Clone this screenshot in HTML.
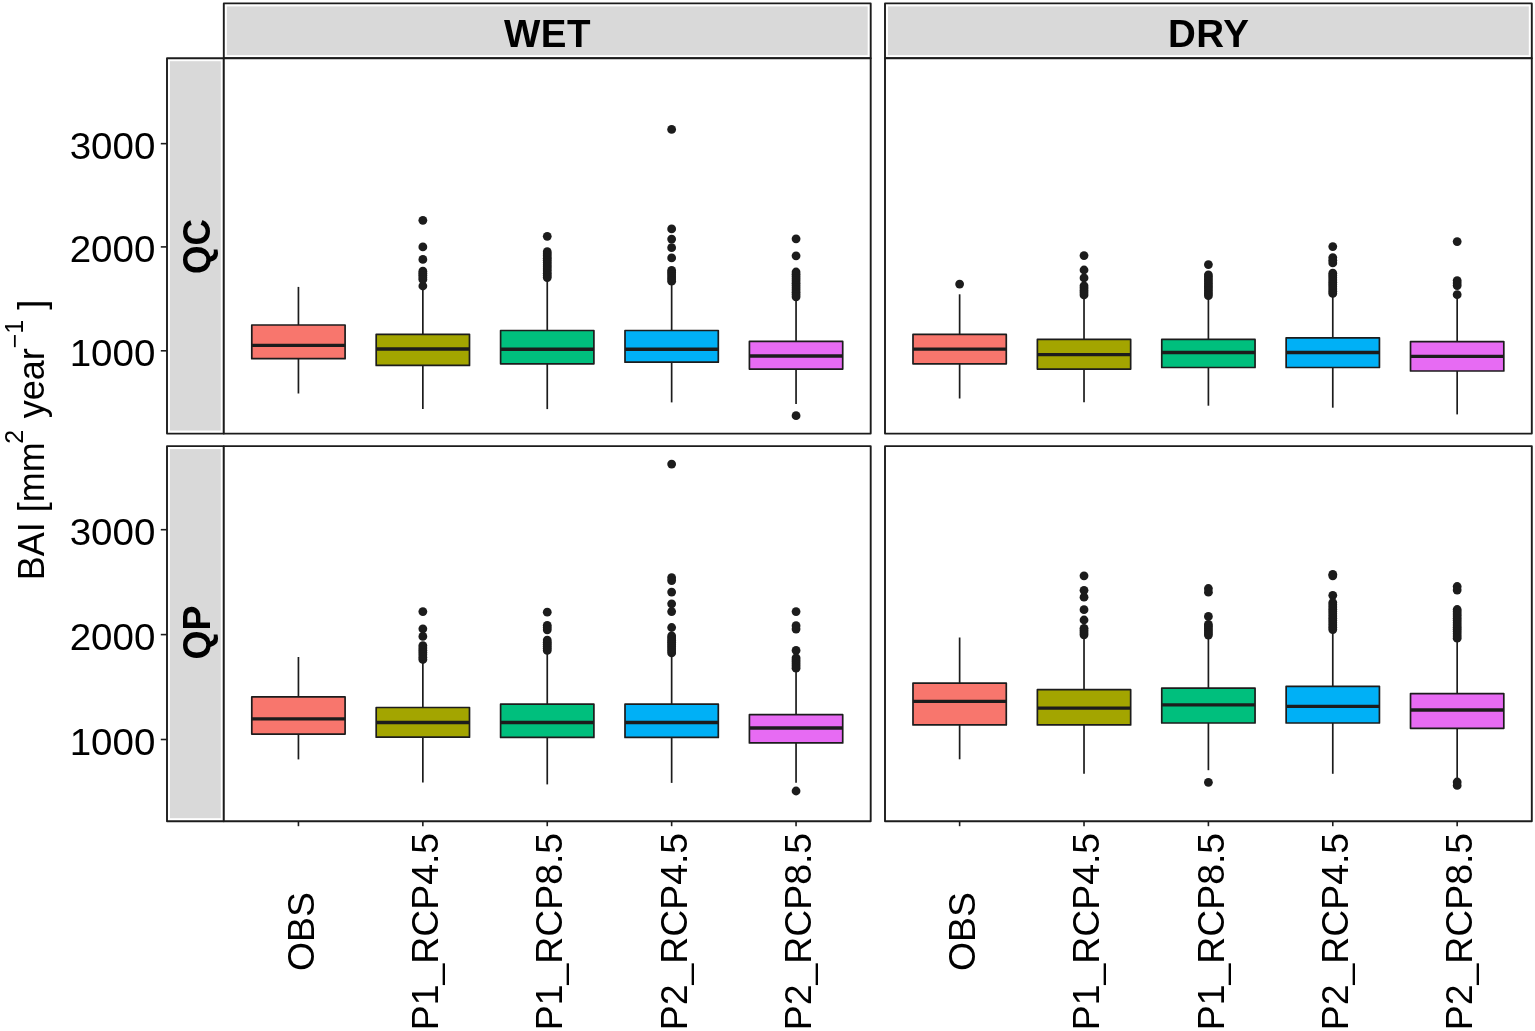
<!DOCTYPE html>
<html lang="en"><head><meta charset="utf-8"><title>BAI boxplots</title>
<style>html,body{margin:0;padding:0;background:#fff}svg{display:block}</style></head>
<body>
<svg width="1535" height="1031" viewBox="0 0 1535 1031" font-family="'Liberation Sans', sans-serif">
<rect width="1535" height="1031" fill="#fff"/>
<rect x="223.80" y="3.40" width="646.90" height="54.80" fill="#fff" stroke="#1c1c1c" stroke-width="1.9" stroke-linejoin="round"/>
<rect x="226.80" y="6.40" width="640.90" height="48.80" fill="#d9d9d9"/>
<text x="547.55" y="46.9" font-size="38.5" font-weight="bold" text-anchor="middle" letter-spacing="0.5" fill="#000">WET</text>
<rect x="885.00" y="3.40" width="646.80" height="54.80" fill="#fff" stroke="#1c1c1c" stroke-width="1.9" stroke-linejoin="round"/>
<rect x="888.00" y="6.40" width="640.80" height="48.80" fill="#d9d9d9"/>
<text x="1208.70" y="46.9" font-size="38.5" font-weight="bold" text-anchor="middle" letter-spacing="0.5" fill="#000">DRY</text>
<rect x="167.00" y="58.20" width="56.80" height="375.40" fill="#fff" stroke="#1c1c1c" stroke-width="1.9" stroke-linejoin="round"/>
<rect x="170.00" y="61.20" width="50.80" height="369.40" fill="#d9d9d9"/>
<text transform="translate(210.4,246.50) rotate(-90) scale(0.94,1)" font-size="39" font-weight="bold" text-anchor="middle" fill="#000">QC</text>
<rect x="167.00" y="446.10" width="56.80" height="375.10" fill="#fff" stroke="#1c1c1c" stroke-width="1.9" stroke-linejoin="round"/>
<rect x="170.00" y="449.10" width="50.80" height="369.10" fill="#d9d9d9"/>
<text transform="translate(210.4,632.55) rotate(-90) scale(0.96,1)" font-size="39" font-weight="bold" text-anchor="middle" fill="#000">QP</text>
<rect x="223.80" y="58.20" width="646.90" height="375.40" fill="#fff" stroke="#1c1c1c" stroke-width="1.9" stroke-linejoin="round"/>
<rect x="223.80" y="446.10" width="646.90" height="375.10" fill="#fff" stroke="#1c1c1c" stroke-width="1.9" stroke-linejoin="round"/>
<rect x="885.00" y="58.20" width="646.80" height="375.40" fill="#fff" stroke="#1c1c1c" stroke-width="1.9" stroke-linejoin="round"/>
<rect x="885.00" y="446.10" width="646.80" height="375.10" fill="#fff" stroke="#1c1c1c" stroke-width="1.9" stroke-linejoin="round"/>
<line x1="160.8" x2="167.0" y1="143.65" y2="143.65" stroke="#1c1c1c" stroke-width="1.6"/>
<text transform="translate(155.3,158.95) scale(1.07,1)" font-size="36" text-anchor="end" fill="#000">3000</text>
<line x1="160.8" x2="167.0" y1="246.90" y2="246.90" stroke="#1c1c1c" stroke-width="1.6"/>
<text transform="translate(155.3,262.20) scale(1.07,1)" font-size="36" text-anchor="end" fill="#000">2000</text>
<line x1="160.8" x2="167.0" y1="350.80" y2="350.80" stroke="#1c1c1c" stroke-width="1.6"/>
<text transform="translate(155.3,366.10) scale(1.07,1)" font-size="36" text-anchor="end" fill="#000">1000</text>
<line x1="160.8" x2="167.0" y1="529.70" y2="529.70" stroke="#1c1c1c" stroke-width="1.6"/>
<text transform="translate(155.3,545.00) scale(1.07,1)" font-size="36" text-anchor="end" fill="#000">3000</text>
<line x1="160.8" x2="167.0" y1="634.60" y2="634.60" stroke="#1c1c1c" stroke-width="1.6"/>
<text transform="translate(155.3,649.90) scale(1.07,1)" font-size="36" text-anchor="end" fill="#000">2000</text>
<line x1="160.8" x2="167.0" y1="739.50" y2="739.50" stroke="#1c1c1c" stroke-width="1.6"/>
<text transform="translate(155.3,754.80) scale(1.07,1)" font-size="36" text-anchor="end" fill="#000">1000</text>
<line x1="298.44" x2="298.44" y1="821.20" y2="826.20" stroke="#1c1c1c" stroke-width="1.6"/>
<text transform="translate(313.54,931.5) rotate(-90) scale(1.038,1)" font-size="36" text-anchor="middle" fill="#000">OBS</text>
<line x1="422.85" x2="422.85" y1="821.20" y2="826.20" stroke="#1c1c1c" stroke-width="1.6"/>
<text transform="translate(437.95,931.5) rotate(-90) scale(1.038,1)" font-size="36" text-anchor="middle" fill="#000">P1_RCP4.5</text>
<line x1="547.25" x2="547.25" y1="821.20" y2="826.20" stroke="#1c1c1c" stroke-width="1.6"/>
<text transform="translate(562.35,931.5) rotate(-90) scale(1.038,1)" font-size="36" text-anchor="middle" fill="#000">P1_RCP8.5</text>
<line x1="671.65" x2="671.65" y1="821.20" y2="826.20" stroke="#1c1c1c" stroke-width="1.6"/>
<text transform="translate(686.75,931.5) rotate(-90) scale(1.038,1)" font-size="36" text-anchor="middle" fill="#000">P2_RCP4.5</text>
<line x1="796.06" x2="796.06" y1="821.20" y2="826.20" stroke="#1c1c1c" stroke-width="1.6"/>
<text transform="translate(811.16,931.5) rotate(-90) scale(1.038,1)" font-size="36" text-anchor="middle" fill="#000">P2_RCP8.5</text>
<line x1="959.63" x2="959.63" y1="821.20" y2="826.20" stroke="#1c1c1c" stroke-width="1.6"/>
<text transform="translate(974.73,931.5) rotate(-90) scale(1.038,1)" font-size="36" text-anchor="middle" fill="#000">OBS</text>
<line x1="1084.02" x2="1084.02" y1="821.20" y2="826.20" stroke="#1c1c1c" stroke-width="1.6"/>
<text transform="translate(1099.12,931.5) rotate(-90) scale(1.038,1)" font-size="36" text-anchor="middle" fill="#000">P1_RCP4.5</text>
<line x1="1208.40" x2="1208.40" y1="821.20" y2="826.20" stroke="#1c1c1c" stroke-width="1.6"/>
<text transform="translate(1223.50,931.5) rotate(-90) scale(1.038,1)" font-size="36" text-anchor="middle" fill="#000">P1_RCP8.5</text>
<line x1="1332.78" x2="1332.78" y1="821.20" y2="826.20" stroke="#1c1c1c" stroke-width="1.6"/>
<text transform="translate(1347.88,931.5) rotate(-90) scale(1.038,1)" font-size="36" text-anchor="middle" fill="#000">P2_RCP4.5</text>
<line x1="1457.17" x2="1457.17" y1="821.20" y2="826.20" stroke="#1c1c1c" stroke-width="1.6"/>
<text transform="translate(1472.27,931.5) rotate(-90) scale(1.038,1)" font-size="36" text-anchor="middle" fill="#000">P2_RCP8.5</text>
<text transform="translate(43.5,440) rotate(-90)" font-size="36" text-anchor="middle" fill="#000">BAI [mm<tspan font-size="25" dy="-21" dx="-1.5">2</tspan><tspan dy="21" dx="1.5"> year</tspan><tspan font-size="25" dy="-21">−1</tspan><tspan dy="21"> ]</tspan></text>
<line x1="298.44" x2="298.44" y1="286.90" y2="325.00" stroke="#1c1c1c" stroke-width="1.7"/>
<line x1="298.44" x2="298.44" y1="358.70" y2="393.50" stroke="#1c1c1c" stroke-width="1.7"/>
<rect x="251.79" y="325.00" width="93.30" height="33.70" fill="#F8766D" stroke="#1c1c1c" stroke-width="1.7" stroke-linejoin="round"/>
<line x1="251.79" x2="345.09" y1="345.40" y2="345.40" stroke="#1c1c1c" stroke-width="3.3"/>
<circle cx="422.85" cy="220.30" r="4.4" fill="#1c1c1c"/>
<circle cx="422.85" cy="246.90" r="4.4" fill="#1c1c1c"/>
<circle cx="422.85" cy="259.40" r="4.4" fill="#1c1c1c"/>
<circle cx="422.85" cy="286.00" r="4.4" fill="#1c1c1c"/>
<circle cx="422.85" cy="271.20" r="4.4" fill="#1c1c1c"/>
<circle cx="422.85" cy="273.27" r="4.4" fill="#1c1c1c"/>
<circle cx="422.85" cy="275.35" r="4.4" fill="#1c1c1c"/>
<circle cx="422.85" cy="277.43" r="4.4" fill="#1c1c1c"/>
<circle cx="422.85" cy="279.50" r="4.4" fill="#1c1c1c"/>
<line x1="422.85" x2="422.85" y1="287.50" y2="334.30" stroke="#1c1c1c" stroke-width="1.7"/>
<line x1="422.85" x2="422.85" y1="365.40" y2="409.10" stroke="#1c1c1c" stroke-width="1.7"/>
<rect x="376.19" y="334.30" width="93.30" height="31.10" fill="#A3A500" stroke="#1c1c1c" stroke-width="1.7" stroke-linejoin="round"/>
<line x1="376.19" x2="469.50" y1="349.00" y2="349.00" stroke="#1c1c1c" stroke-width="3.3"/>
<circle cx="547.25" cy="236.30" r="4.4" fill="#1c1c1c"/>
<circle cx="547.25" cy="251.70" r="4.4" fill="#1c1c1c"/>
<circle cx="547.25" cy="253.86" r="4.4" fill="#1c1c1c"/>
<circle cx="547.25" cy="256.02" r="4.4" fill="#1c1c1c"/>
<circle cx="547.25" cy="258.18" r="4.4" fill="#1c1c1c"/>
<circle cx="547.25" cy="260.33" r="4.4" fill="#1c1c1c"/>
<circle cx="547.25" cy="262.49" r="4.4" fill="#1c1c1c"/>
<circle cx="547.25" cy="264.65" r="4.4" fill="#1c1c1c"/>
<circle cx="547.25" cy="266.81" r="4.4" fill="#1c1c1c"/>
<circle cx="547.25" cy="268.97" r="4.4" fill="#1c1c1c"/>
<circle cx="547.25" cy="271.12" r="4.4" fill="#1c1c1c"/>
<circle cx="547.25" cy="273.28" r="4.4" fill="#1c1c1c"/>
<circle cx="547.25" cy="275.44" r="4.4" fill="#1c1c1c"/>
<circle cx="547.25" cy="277.60" r="4.4" fill="#1c1c1c"/>
<line x1="547.25" x2="547.25" y1="278.00" y2="330.50" stroke="#1c1c1c" stroke-width="1.7"/>
<line x1="547.25" x2="547.25" y1="363.80" y2="409.10" stroke="#1c1c1c" stroke-width="1.7"/>
<rect x="500.60" y="330.50" width="93.30" height="33.30" fill="#00BF7D" stroke="#1c1c1c" stroke-width="1.7" stroke-linejoin="round"/>
<line x1="500.60" x2="593.90" y1="349.25" y2="349.25" stroke="#1c1c1c" stroke-width="3.3"/>
<circle cx="671.65" cy="129.40" r="4.4" fill="#1c1c1c"/>
<circle cx="671.65" cy="228.90" r="4.4" fill="#1c1c1c"/>
<circle cx="671.65" cy="239.10" r="4.4" fill="#1c1c1c"/>
<circle cx="671.65" cy="247.70" r="4.4" fill="#1c1c1c"/>
<circle cx="671.65" cy="257.90" r="4.4" fill="#1c1c1c"/>
<circle cx="671.65" cy="270.40" r="4.4" fill="#1c1c1c"/>
<circle cx="671.65" cy="272.56" r="4.4" fill="#1c1c1c"/>
<circle cx="671.65" cy="274.72" r="4.4" fill="#1c1c1c"/>
<circle cx="671.65" cy="276.88" r="4.4" fill="#1c1c1c"/>
<circle cx="671.65" cy="279.04" r="4.4" fill="#1c1c1c"/>
<circle cx="671.65" cy="281.20" r="4.4" fill="#1c1c1c"/>
<line x1="671.65" x2="671.65" y1="284.00" y2="330.50" stroke="#1c1c1c" stroke-width="1.7"/>
<line x1="671.65" x2="671.65" y1="362.20" y2="402.40" stroke="#1c1c1c" stroke-width="1.7"/>
<rect x="625.00" y="330.50" width="93.30" height="31.70" fill="#00B0F6" stroke="#1c1c1c" stroke-width="1.7" stroke-linejoin="round"/>
<line x1="625.00" x2="718.31" y1="349.25" y2="349.25" stroke="#1c1c1c" stroke-width="3.3"/>
<circle cx="796.06" cy="238.80" r="4.4" fill="#1c1c1c"/>
<circle cx="796.06" cy="255.80" r="4.4" fill="#1c1c1c"/>
<circle cx="796.06" cy="415.70" r="4.4" fill="#1c1c1c"/>
<circle cx="796.06" cy="272.00" r="4.4" fill="#1c1c1c"/>
<circle cx="796.06" cy="274.25" r="4.4" fill="#1c1c1c"/>
<circle cx="796.06" cy="276.51" r="4.4" fill="#1c1c1c"/>
<circle cx="796.06" cy="278.76" r="4.4" fill="#1c1c1c"/>
<circle cx="796.06" cy="281.02" r="4.4" fill="#1c1c1c"/>
<circle cx="796.06" cy="283.27" r="4.4" fill="#1c1c1c"/>
<circle cx="796.06" cy="285.53" r="4.4" fill="#1c1c1c"/>
<circle cx="796.06" cy="287.78" r="4.4" fill="#1c1c1c"/>
<circle cx="796.06" cy="290.04" r="4.4" fill="#1c1c1c"/>
<circle cx="796.06" cy="292.29" r="4.4" fill="#1c1c1c"/>
<circle cx="796.06" cy="294.55" r="4.4" fill="#1c1c1c"/>
<circle cx="796.06" cy="296.80" r="4.4" fill="#1c1c1c"/>
<line x1="796.06" x2="796.06" y1="298.00" y2="341.40" stroke="#1c1c1c" stroke-width="1.7"/>
<line x1="796.06" x2="796.06" y1="369.10" y2="404.00" stroke="#1c1c1c" stroke-width="1.7"/>
<rect x="749.41" y="341.40" width="93.30" height="27.70" fill="#E76BF3" stroke="#1c1c1c" stroke-width="1.7" stroke-linejoin="round"/>
<line x1="749.41" x2="842.71" y1="356.00" y2="356.00" stroke="#1c1c1c" stroke-width="3.3"/>
<circle cx="959.63" cy="284.10" r="4.4" fill="#1c1c1c"/>
<line x1="959.63" x2="959.63" y1="294.30" y2="334.40" stroke="#1c1c1c" stroke-width="1.7"/>
<line x1="959.63" x2="959.63" y1="363.80" y2="398.50" stroke="#1c1c1c" stroke-width="1.7"/>
<rect x="912.99" y="334.40" width="93.29" height="29.40" fill="#F8766D" stroke="#1c1c1c" stroke-width="1.7" stroke-linejoin="round"/>
<line x1="912.99" x2="1006.27" y1="349.10" y2="349.10" stroke="#1c1c1c" stroke-width="3.3"/>
<circle cx="1084.02" cy="255.60" r="4.4" fill="#1c1c1c"/>
<circle cx="1084.02" cy="270.00" r="4.4" fill="#1c1c1c"/>
<circle cx="1084.02" cy="277.90" r="4.4" fill="#1c1c1c"/>
<circle cx="1084.02" cy="285.80" r="4.4" fill="#1c1c1c"/>
<circle cx="1084.02" cy="288.10" r="4.4" fill="#1c1c1c"/>
<circle cx="1084.02" cy="290.40" r="4.4" fill="#1c1c1c"/>
<circle cx="1084.02" cy="292.70" r="4.4" fill="#1c1c1c"/>
<circle cx="1084.02" cy="295.00" r="4.4" fill="#1c1c1c"/>
<line x1="1084.02" x2="1084.02" y1="297.00" y2="339.40" stroke="#1c1c1c" stroke-width="1.7"/>
<line x1="1084.02" x2="1084.02" y1="369.10" y2="402.20" stroke="#1c1c1c" stroke-width="1.7"/>
<rect x="1037.37" y="339.40" width="93.29" height="29.70" fill="#A3A500" stroke="#1c1c1c" stroke-width="1.7" stroke-linejoin="round"/>
<line x1="1037.37" x2="1130.66" y1="354.60" y2="354.60" stroke="#1c1c1c" stroke-width="3.3"/>
<circle cx="1208.40" cy="264.60" r="4.4" fill="#1c1c1c"/>
<circle cx="1208.40" cy="274.80" r="4.4" fill="#1c1c1c"/>
<circle cx="1208.40" cy="277.12" r="4.4" fill="#1c1c1c"/>
<circle cx="1208.40" cy="279.44" r="4.4" fill="#1c1c1c"/>
<circle cx="1208.40" cy="281.77" r="4.4" fill="#1c1c1c"/>
<circle cx="1208.40" cy="284.09" r="4.4" fill="#1c1c1c"/>
<circle cx="1208.40" cy="286.41" r="4.4" fill="#1c1c1c"/>
<circle cx="1208.40" cy="288.73" r="4.4" fill="#1c1c1c"/>
<circle cx="1208.40" cy="291.06" r="4.4" fill="#1c1c1c"/>
<circle cx="1208.40" cy="293.38" r="4.4" fill="#1c1c1c"/>
<circle cx="1208.40" cy="295.70" r="4.4" fill="#1c1c1c"/>
<line x1="1208.40" x2="1208.40" y1="297.00" y2="339.40" stroke="#1c1c1c" stroke-width="1.7"/>
<line x1="1208.40" x2="1208.40" y1="367.50" y2="405.70" stroke="#1c1c1c" stroke-width="1.7"/>
<rect x="1161.76" y="339.40" width="93.29" height="28.10" fill="#00BF7D" stroke="#1c1c1c" stroke-width="1.7" stroke-linejoin="round"/>
<line x1="1161.76" x2="1255.04" y1="352.50" y2="352.50" stroke="#1c1c1c" stroke-width="3.3"/>
<circle cx="1332.78" cy="246.60" r="4.4" fill="#1c1c1c"/>
<circle cx="1332.78" cy="257.60" r="4.4" fill="#1c1c1c"/>
<circle cx="1332.78" cy="260.25" r="4.4" fill="#1c1c1c"/>
<circle cx="1332.78" cy="262.90" r="4.4" fill="#1c1c1c"/>
<circle cx="1332.78" cy="273.20" r="4.4" fill="#1c1c1c"/>
<circle cx="1332.78" cy="275.44" r="4.4" fill="#1c1c1c"/>
<circle cx="1332.78" cy="277.69" r="4.4" fill="#1c1c1c"/>
<circle cx="1332.78" cy="279.93" r="4.4" fill="#1c1c1c"/>
<circle cx="1332.78" cy="282.18" r="4.4" fill="#1c1c1c"/>
<circle cx="1332.78" cy="284.42" r="4.4" fill="#1c1c1c"/>
<circle cx="1332.78" cy="286.67" r="4.4" fill="#1c1c1c"/>
<circle cx="1332.78" cy="288.91" r="4.4" fill="#1c1c1c"/>
<circle cx="1332.78" cy="291.16" r="4.4" fill="#1c1c1c"/>
<circle cx="1332.78" cy="293.40" r="4.4" fill="#1c1c1c"/>
<line x1="1332.78" x2="1332.78" y1="296.00" y2="337.80" stroke="#1c1c1c" stroke-width="1.7"/>
<line x1="1332.78" x2="1332.78" y1="367.50" y2="407.70" stroke="#1c1c1c" stroke-width="1.7"/>
<rect x="1286.14" y="337.80" width="93.29" height="29.70" fill="#00B0F6" stroke="#1c1c1c" stroke-width="1.7" stroke-linejoin="round"/>
<line x1="1286.14" x2="1379.43" y1="352.50" y2="352.50" stroke="#1c1c1c" stroke-width="3.3"/>
<circle cx="1457.17" cy="241.60" r="4.4" fill="#1c1c1c"/>
<circle cx="1457.17" cy="294.70" r="4.4" fill="#1c1c1c"/>
<circle cx="1457.17" cy="280.60" r="4.4" fill="#1c1c1c"/>
<circle cx="1457.17" cy="283.10" r="4.4" fill="#1c1c1c"/>
<circle cx="1457.17" cy="285.60" r="4.4" fill="#1c1c1c"/>
<line x1="1457.17" x2="1457.17" y1="297.00" y2="341.60" stroke="#1c1c1c" stroke-width="1.7"/>
<line x1="1457.17" x2="1457.17" y1="371.00" y2="414.40" stroke="#1c1c1c" stroke-width="1.7"/>
<rect x="1410.52" y="341.60" width="93.29" height="29.40" fill="#E76BF3" stroke="#1c1c1c" stroke-width="1.7" stroke-linejoin="round"/>
<line x1="1410.52" x2="1503.81" y1="356.30" y2="356.30" stroke="#1c1c1c" stroke-width="3.3"/>
<line x1="298.44" x2="298.44" y1="657.00" y2="696.90" stroke="#1c1c1c" stroke-width="1.7"/>
<line x1="298.44" x2="298.44" y1="734.10" y2="759.40" stroke="#1c1c1c" stroke-width="1.7"/>
<rect x="251.79" y="696.90" width="93.30" height="37.20" fill="#F8766D" stroke="#1c1c1c" stroke-width="1.7" stroke-linejoin="round"/>
<line x1="251.79" x2="345.09" y1="718.80" y2="718.80" stroke="#1c1c1c" stroke-width="3.3"/>
<circle cx="422.85" cy="611.60" r="4.4" fill="#1c1c1c"/>
<circle cx="422.85" cy="628.80" r="4.4" fill="#1c1c1c"/>
<circle cx="422.85" cy="636.40" r="4.4" fill="#1c1c1c"/>
<circle cx="422.85" cy="645.60" r="4.4" fill="#1c1c1c"/>
<circle cx="422.85" cy="647.92" r="4.4" fill="#1c1c1c"/>
<circle cx="422.85" cy="650.23" r="4.4" fill="#1c1c1c"/>
<circle cx="422.85" cy="652.55" r="4.4" fill="#1c1c1c"/>
<circle cx="422.85" cy="654.87" r="4.4" fill="#1c1c1c"/>
<circle cx="422.85" cy="657.18" r="4.4" fill="#1c1c1c"/>
<circle cx="422.85" cy="659.50" r="4.4" fill="#1c1c1c"/>
<line x1="422.85" x2="422.85" y1="662.00" y2="707.50" stroke="#1c1c1c" stroke-width="1.7"/>
<line x1="422.85" x2="422.85" y1="737.20" y2="782.60" stroke="#1c1c1c" stroke-width="1.7"/>
<rect x="376.19" y="707.50" width="93.30" height="29.70" fill="#A3A500" stroke="#1c1c1c" stroke-width="1.7" stroke-linejoin="round"/>
<line x1="376.19" x2="469.50" y1="722.50" y2="722.50" stroke="#1c1c1c" stroke-width="3.3"/>
<circle cx="547.25" cy="612.20" r="4.4" fill="#1c1c1c"/>
<circle cx="547.25" cy="625.30" r="4.4" fill="#1c1c1c"/>
<circle cx="547.25" cy="627.55" r="4.4" fill="#1c1c1c"/>
<circle cx="547.25" cy="629.80" r="4.4" fill="#1c1c1c"/>
<circle cx="547.25" cy="640.10" r="4.4" fill="#1c1c1c"/>
<circle cx="547.25" cy="642.16" r="4.4" fill="#1c1c1c"/>
<circle cx="547.25" cy="644.22" r="4.4" fill="#1c1c1c"/>
<circle cx="547.25" cy="646.28" r="4.4" fill="#1c1c1c"/>
<circle cx="547.25" cy="648.34" r="4.4" fill="#1c1c1c"/>
<circle cx="547.25" cy="650.40" r="4.4" fill="#1c1c1c"/>
<line x1="547.25" x2="547.25" y1="653.00" y2="704.20" stroke="#1c1c1c" stroke-width="1.7"/>
<line x1="547.25" x2="547.25" y1="737.40" y2="784.40" stroke="#1c1c1c" stroke-width="1.7"/>
<rect x="500.60" y="704.20" width="93.30" height="33.20" fill="#00BF7D" stroke="#1c1c1c" stroke-width="1.7" stroke-linejoin="round"/>
<line x1="500.60" x2="593.90" y1="722.50" y2="722.50" stroke="#1c1c1c" stroke-width="3.3"/>
<circle cx="671.65" cy="464.10" r="4.4" fill="#1c1c1c"/>
<circle cx="671.65" cy="577.70" r="4.4" fill="#1c1c1c"/>
<circle cx="671.65" cy="580.60" r="4.4" fill="#1c1c1c"/>
<circle cx="671.65" cy="592.10" r="4.4" fill="#1c1c1c"/>
<circle cx="671.65" cy="603.80" r="4.4" fill="#1c1c1c"/>
<circle cx="671.65" cy="611.60" r="4.4" fill="#1c1c1c"/>
<circle cx="671.65" cy="627.50" r="4.4" fill="#1c1c1c"/>
<circle cx="671.65" cy="635.90" r="4.4" fill="#1c1c1c"/>
<circle cx="671.65" cy="638.02" r="4.4" fill="#1c1c1c"/>
<circle cx="671.65" cy="640.15" r="4.4" fill="#1c1c1c"/>
<circle cx="671.65" cy="642.27" r="4.4" fill="#1c1c1c"/>
<circle cx="671.65" cy="644.40" r="4.4" fill="#1c1c1c"/>
<circle cx="671.65" cy="646.52" r="4.4" fill="#1c1c1c"/>
<circle cx="671.65" cy="648.65" r="4.4" fill="#1c1c1c"/>
<circle cx="671.65" cy="650.77" r="4.4" fill="#1c1c1c"/>
<circle cx="671.65" cy="652.90" r="4.4" fill="#1c1c1c"/>
<line x1="671.65" x2="671.65" y1="655.00" y2="704.20" stroke="#1c1c1c" stroke-width="1.7"/>
<line x1="671.65" x2="671.65" y1="737.40" y2="782.90" stroke="#1c1c1c" stroke-width="1.7"/>
<rect x="625.00" y="704.20" width="93.30" height="33.20" fill="#00B0F6" stroke="#1c1c1c" stroke-width="1.7" stroke-linejoin="round"/>
<line x1="625.00" x2="718.31" y1="722.50" y2="722.50" stroke="#1c1c1c" stroke-width="3.3"/>
<circle cx="796.06" cy="791.00" r="4.4" fill="#1c1c1c"/>
<circle cx="796.06" cy="611.60" r="4.4" fill="#1c1c1c"/>
<circle cx="796.06" cy="625.70" r="4.4" fill="#1c1c1c"/>
<circle cx="796.06" cy="629.10" r="4.4" fill="#1c1c1c"/>
<circle cx="796.06" cy="650.40" r="4.4" fill="#1c1c1c"/>
<circle cx="796.06" cy="657.80" r="4.4" fill="#1c1c1c"/>
<circle cx="796.06" cy="659.88" r="4.4" fill="#1c1c1c"/>
<circle cx="796.06" cy="661.96" r="4.4" fill="#1c1c1c"/>
<circle cx="796.06" cy="664.04" r="4.4" fill="#1c1c1c"/>
<circle cx="796.06" cy="666.12" r="4.4" fill="#1c1c1c"/>
<circle cx="796.06" cy="668.20" r="4.4" fill="#1c1c1c"/>
<line x1="796.06" x2="796.06" y1="670.00" y2="714.70" stroke="#1c1c1c" stroke-width="1.7"/>
<line x1="796.06" x2="796.06" y1="742.90" y2="782.70" stroke="#1c1c1c" stroke-width="1.7"/>
<rect x="749.41" y="714.70" width="93.30" height="28.20" fill="#E76BF3" stroke="#1c1c1c" stroke-width="1.7" stroke-linejoin="round"/>
<line x1="749.41" x2="842.71" y1="728.00" y2="728.00" stroke="#1c1c1c" stroke-width="3.3"/>
<line x1="959.63" x2="959.63" y1="637.50" y2="683.10" stroke="#1c1c1c" stroke-width="1.7"/>
<line x1="959.63" x2="959.63" y1="724.90" y2="759.30" stroke="#1c1c1c" stroke-width="1.7"/>
<rect x="912.99" y="683.10" width="93.29" height="41.80" fill="#F8766D" stroke="#1c1c1c" stroke-width="1.7" stroke-linejoin="round"/>
<line x1="912.99" x2="1006.27" y1="701.40" y2="701.40" stroke="#1c1c1c" stroke-width="3.3"/>
<circle cx="1084.02" cy="575.80" r="4.4" fill="#1c1c1c"/>
<circle cx="1084.02" cy="590.30" r="4.4" fill="#1c1c1c"/>
<circle cx="1084.02" cy="597.20" r="4.4" fill="#1c1c1c"/>
<circle cx="1084.02" cy="609.70" r="4.4" fill="#1c1c1c"/>
<circle cx="1084.02" cy="620.00" r="4.4" fill="#1c1c1c"/>
<circle cx="1084.02" cy="628.30" r="4.4" fill="#1c1c1c"/>
<circle cx="1084.02" cy="630.47" r="4.4" fill="#1c1c1c"/>
<circle cx="1084.02" cy="632.63" r="4.4" fill="#1c1c1c"/>
<circle cx="1084.02" cy="634.80" r="4.4" fill="#1c1c1c"/>
<line x1="1084.02" x2="1084.02" y1="637.00" y2="689.70" stroke="#1c1c1c" stroke-width="1.7"/>
<line x1="1084.02" x2="1084.02" y1="724.90" y2="773.80" stroke="#1c1c1c" stroke-width="1.7"/>
<rect x="1037.37" y="689.70" width="93.29" height="35.20" fill="#A3A500" stroke="#1c1c1c" stroke-width="1.7" stroke-linejoin="round"/>
<line x1="1037.37" x2="1130.66" y1="708.20" y2="708.20" stroke="#1c1c1c" stroke-width="3.3"/>
<circle cx="1208.40" cy="782.30" r="4.4" fill="#1c1c1c"/>
<circle cx="1208.40" cy="588.50" r="4.4" fill="#1c1c1c"/>
<circle cx="1208.40" cy="592.20" r="4.4" fill="#1c1c1c"/>
<circle cx="1208.40" cy="616.40" r="4.4" fill="#1c1c1c"/>
<circle cx="1208.40" cy="624.40" r="4.4" fill="#1c1c1c"/>
<circle cx="1208.40" cy="626.54" r="4.4" fill="#1c1c1c"/>
<circle cx="1208.40" cy="628.68" r="4.4" fill="#1c1c1c"/>
<circle cx="1208.40" cy="630.82" r="4.4" fill="#1c1c1c"/>
<circle cx="1208.40" cy="632.96" r="4.4" fill="#1c1c1c"/>
<circle cx="1208.40" cy="635.10" r="4.4" fill="#1c1c1c"/>
<line x1="1208.40" x2="1208.40" y1="637.00" y2="688.10" stroke="#1c1c1c" stroke-width="1.7"/>
<line x1="1208.40" x2="1208.40" y1="723.00" y2="770.20" stroke="#1c1c1c" stroke-width="1.7"/>
<rect x="1161.76" y="688.10" width="93.29" height="34.90" fill="#00BF7D" stroke="#1c1c1c" stroke-width="1.7" stroke-linejoin="round"/>
<line x1="1161.76" x2="1255.04" y1="704.90" y2="704.90" stroke="#1c1c1c" stroke-width="3.3"/>
<circle cx="1332.78" cy="574.30" r="4.4" fill="#1c1c1c"/>
<circle cx="1332.78" cy="575.80" r="4.4" fill="#1c1c1c"/>
<circle cx="1332.78" cy="595.30" r="4.4" fill="#1c1c1c"/>
<circle cx="1332.78" cy="602.50" r="4.4" fill="#1c1c1c"/>
<circle cx="1332.78" cy="604.76" r="4.4" fill="#1c1c1c"/>
<circle cx="1332.78" cy="607.02" r="4.4" fill="#1c1c1c"/>
<circle cx="1332.78" cy="609.27" r="4.4" fill="#1c1c1c"/>
<circle cx="1332.78" cy="611.53" r="4.4" fill="#1c1c1c"/>
<circle cx="1332.78" cy="613.79" r="4.4" fill="#1c1c1c"/>
<circle cx="1332.78" cy="616.05" r="4.4" fill="#1c1c1c"/>
<circle cx="1332.78" cy="618.31" r="4.4" fill="#1c1c1c"/>
<circle cx="1332.78" cy="620.57" r="4.4" fill="#1c1c1c"/>
<circle cx="1332.78" cy="622.83" r="4.4" fill="#1c1c1c"/>
<circle cx="1332.78" cy="625.08" r="4.4" fill="#1c1c1c"/>
<circle cx="1332.78" cy="627.34" r="4.4" fill="#1c1c1c"/>
<circle cx="1332.78" cy="629.60" r="4.4" fill="#1c1c1c"/>
<line x1="1332.78" x2="1332.78" y1="632.00" y2="686.30" stroke="#1c1c1c" stroke-width="1.7"/>
<line x1="1332.78" x2="1332.78" y1="723.00" y2="773.80" stroke="#1c1c1c" stroke-width="1.7"/>
<rect x="1286.14" y="686.30" width="93.29" height="36.70" fill="#00B0F6" stroke="#1c1c1c" stroke-width="1.7" stroke-linejoin="round"/>
<line x1="1286.14" x2="1379.43" y1="706.40" y2="706.40" stroke="#1c1c1c" stroke-width="3.3"/>
<circle cx="1457.17" cy="782.00" r="4.4" fill="#1c1c1c"/>
<circle cx="1457.17" cy="785.40" r="4.4" fill="#1c1c1c"/>
<circle cx="1457.17" cy="586.50" r="4.4" fill="#1c1c1c"/>
<circle cx="1457.17" cy="590.10" r="4.4" fill="#1c1c1c"/>
<circle cx="1457.17" cy="609.50" r="4.4" fill="#1c1c1c"/>
<circle cx="1457.17" cy="611.71" r="4.4" fill="#1c1c1c"/>
<circle cx="1457.17" cy="613.92" r="4.4" fill="#1c1c1c"/>
<circle cx="1457.17" cy="616.12" r="4.4" fill="#1c1c1c"/>
<circle cx="1457.17" cy="618.33" r="4.4" fill="#1c1c1c"/>
<circle cx="1457.17" cy="620.54" r="4.4" fill="#1c1c1c"/>
<circle cx="1457.17" cy="622.75" r="4.4" fill="#1c1c1c"/>
<circle cx="1457.17" cy="624.95" r="4.4" fill="#1c1c1c"/>
<circle cx="1457.17" cy="627.16" r="4.4" fill="#1c1c1c"/>
<circle cx="1457.17" cy="629.37" r="4.4" fill="#1c1c1c"/>
<circle cx="1457.17" cy="631.58" r="4.4" fill="#1c1c1c"/>
<circle cx="1457.17" cy="633.78" r="4.4" fill="#1c1c1c"/>
<circle cx="1457.17" cy="635.99" r="4.4" fill="#1c1c1c"/>
<circle cx="1457.17" cy="638.20" r="4.4" fill="#1c1c1c"/>
<line x1="1457.17" x2="1457.17" y1="641.00" y2="693.60" stroke="#1c1c1c" stroke-width="1.7"/>
<line x1="1457.17" x2="1457.17" y1="728.30" y2="780.00" stroke="#1c1c1c" stroke-width="1.7"/>
<rect x="1410.52" y="693.60" width="93.29" height="34.70" fill="#E76BF3" stroke="#1c1c1c" stroke-width="1.7" stroke-linejoin="round"/>
<line x1="1410.52" x2="1503.81" y1="710.00" y2="710.00" stroke="#1c1c1c" stroke-width="3.3"/>
</svg>
</body></html>
